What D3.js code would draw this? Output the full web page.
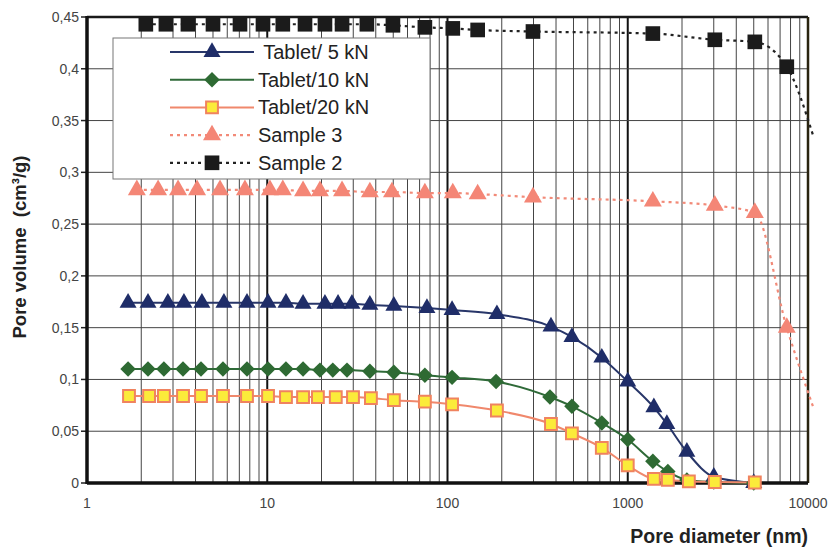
<!DOCTYPE html>
<html>
<head>
<meta charset="utf-8">
<script src="https://cdn.jsdelivr.net/npm/d3@7"></script>
<style>
  body { margin: 0; background: #fff; }
  text { font-family: "Liberation Sans", Arial, sans-serif; }
</style>
</head>
<body>
<div id="chart"></div>
<script>
// pore diameters (nm) and cumulative pore volumes (cm3/g)
const tab5D = [1.69, 2.18, 2.81, 3.45, 4.34, 5.75, 7.72, 10.1, 12.7, 15.8, 20.9, 24.7, 29.5, 37.1, 50.4, 76.9, 106, 188, 375, 490, 718, 1000, 1396, 1648, 2128, 3003, 5000];
const tab5V = [0.174, 0.174, 0.174, 0.174, 0.174, 0.174, 0.174, 0.174, 0.174, 0.173, 0.173, 0.173, 0.173, 0.172, 0.171, 0.169, 0.167, 0.163, 0.151, 0.141, 0.121, 0.098, 0.073, 0.057, 0.030, 0.006, 0.0];

const tab10D = [1.69, 2.18, 2.67, 3.41, 4.29, 5.68, 7.72, 10.1, 12.7, 15.8, 19.6, 23.1, 27.7, 37.1, 50.4, 74.9, 106, 186, 370, 490, 718, 1000, 1378, 1669, 2128, 3003, 5000];
const tab10V = [0.110, 0.110, 0.110, 0.110, 0.110, 0.110, 0.110, 0.110, 0.110, 0.110, 0.109, 0.109, 0.109, 0.108, 0.107, 0.104, 0.102, 0.098, 0.083, 0.074, 0.058, 0.042, 0.021, 0.011, 0.003, 0.001, 0.0];

const tab20D = [1.71, 2.21, 2.67, 3.41, 4.29, 5.68, 7.72, 10.1, 12.7, 15.8, 19.1, 24.0, 29.9, 37.6, 50.4, 74.9, 106, 188, 375, 490, 718, 1000, 1396, 1669, 2183, 3041, 5070];
const tab20V = [0.084, 0.084, 0.084, 0.084, 0.084, 0.084, 0.084, 0.084, 0.083, 0.083, 0.083, 0.083, 0.083, 0.082, 0.080, 0.0785, 0.076, 0.070, 0.057, 0.048, 0.034, 0.017, 0.004, 0.003, 0.0015, 0.001, 0.0005];

const s3D = [1.89, 2.48, 3.20, 4.08, 5.47, 7.52, 10.35, 12.2, 15.8, 19.6, 26.0, 37.1, 49.2, 74.9, 107, 147, 298, 1378, 3041, 5070, 7627, 10700];
const s3V = [0.283, 0.283, 0.283, 0.283, 0.283, 0.283, 0.283, 0.283, 0.282, 0.282, 0.282, 0.281, 0.281, 0.280, 0.280, 0.279, 0.276, 0.272, 0.268, 0.261, 0.150, 0.073];

const s2D = [2.12, 2.74, 3.63, 5.0, 7.06, 9.47, 12.2, 16.2, 20.9, 26.0, 35.7, 49.8, 74.9, 107, 147, 298, 1378, 3041, 5070, 7627, 10700];
const s2V = [0.443, 0.443, 0.443, 0.443, 0.443, 0.443, 0.443, 0.443, 0.443, 0.443, 0.443, 0.442, 0.440, 0.439, 0.4375, 0.436, 0.434, 0.428, 0.426, 0.402, 0.335];

const seriesNames = [" Tablet/ 5 kN", "Tablet/10 kN", "Tablet/20 kN", "Sample 3", "Sample 2"];
const yTicks = [0, 0.05, 0.1, 0.15, 0.2, 0.25, 0.3, 0.35, 0.4, 0.45];
const xTicks = [1, 10, 100, 1000, 10000];

const series = [
    {name: seriesNames[0], d: tab5D, v: tab5V, line: "#283669", dash: null, shape: "tri", fill: "#1f2d68", stroke: "none", size: 125},
    {name: seriesNames[1], d: tab10D, v: tab10V, line: "#2f6a38", dash: null, shape: "dia", fill: "#2e6a33", stroke: "none", size: 120},
    {name: seriesNames[2], d: tab20D, v: tab20V, line: "#f0886c", dash: null, shape: "sq", fill: "#fbeb3a", stroke: "#f0835f", size: 140},
    {name: seriesNames[3], d: s3D, v: s3V, line: "#f28a78", dash: "3,4", shape: "tri", fill: "#f48676", stroke: "none", size: 140},
    {name: seriesNames[4], d: s2D, v: s2V, line: "#222", dash: "3,4", shape: "sq", fill: "#1b1b1b", stroke: "none", size: 215}
];

const W = 828, H = 547;
const L = 87, R = 808, T = 17, B = 483;

const svg = d3.select("#chart")
    .append("svg")
    .attr("width", W)
    .attr("height", H);

const x = d3.scaleLog().domain([1, 10000]).range([L, R]);
const y = d3.scaleLinear().domain([0, 0.45]).range([B, T]);

// grid
const grid = svg.append("g");
const isMajor = v => Math.abs(Math.log10(v) - Math.round(Math.log10(v))) < 1e-9;

grid.selectAll(".vg")
    .data(x.ticks().filter(v => v > 1 && v < 10000))
    .enter()
    .append("line")
    .attr("x1", d => x(d)).attr("x2", d => x(d))
    .attr("y1", T).attr("y2", B)
    .attr("stroke", d => isMajor(d) ? "#111" : "#444")
    .attr("stroke-width", d => isMajor(d) ? 2 : 1);

grid.selectAll(".hg")
    .data(yTicks.filter(v => v > 0 && v < 0.45))
    .enter()
    .append("line")
    .attr("x1", L).attr("x2", R)
    .attr("y1", d => y(d)).attr("y2", d => y(d))
    .attr("stroke", "#444")
    .attr("stroke-width", 1);

// frame
svg.append("line").attr("x1", L).attr("x2", R).attr("y1", T).attr("y2", T)
    .attr("stroke", "#1a1a1a").attr("stroke-width", 2.5);
svg.append("line").attr("x1", R).attr("x2", R).attr("y1", T).attr("y2", B)
    .attr("stroke", "#2a2410").attr("stroke-width", 2.5);

// y tick marks and labels
svg.selectAll(".yt")
    .data(yTicks)
    .enter()
    .append("line")
    .attr("x1", L - 6).attr("x2", L)
    .attr("y1", d => y(d)).attr("y2", d => y(d))
    .attr("stroke", "#222").attr("stroke-width", 1.5);

svg.selectAll(".yl")
    .data(yTicks)
    .enter()
    .append("text")
    .attr("x", L - 8)
    .attr("y", d => y(d) + 5)
    .attr("text-anchor", "end")
    .attr("font-size", 14)
    .attr("fill", "#444")
    .text(d => String(d).replace(".", ","));

svg.selectAll(".xl")
    .data(xTicks)
    .enter()
    .append("text")
    .attr("x", d => x(d))
    .attr("y", 508)
    .attr("text-anchor", "middle")
    .attr("font-size", 14)
    .attr("fill", "#444")
    .text(d => d);

// axis lines
svg.append("line").attr("x1", L).attr("x2", L).attr("y1", T - 1).attr("y2", B + 1)
    .attr("stroke", "#111").attr("stroke-width", 3.5);
svg.append("line").attr("x1", L).attr("x2", R).attr("y1", B).attr("y2", B)
    .attr("stroke", "#111").attr("stroke-width", 3.5);

// titles
svg.append("text")
    .attr("transform", "translate(26,247) rotate(-90)")
    .attr("text-anchor", "middle")
    .attr("font-size", 18.5)
    .attr("font-weight", "bold")
    .attr("fill", "#222")
    .style("white-space", "pre")
    .text("Pore volume  (cm\u00B3/g)");

svg.append("text")
    .attr("x", R)
    .attr("y", 543)
    .attr("text-anchor", "end")
    .attr("font-size", 19.5)
    .attr("font-weight", "bold")
    .attr("fill", "#222")
    .text("Pore diameter (nm)");

// marker helper
const symbolFor = function(s) {
    if (s.shape === "tri") return d3.symbol().type(d3.symbolTriangle).size(s.size)();
    return d3.symbol().type(d3.symbolSquare).size(s.size)();
};
const rot = s => s.shape === "dia" ? " rotate(45)" : "";

const lineGen = d3.line()
    .x(p => x(p[0]))
    .y(p => y(p[1]))
    .curve(d3.curveMonotoneX);

const plot = svg.append("g");

series.forEach(function(s) {
    const pts = s.d.map((d, i) => [d, s.v[i]]);
    plot.append("path")
        .attr("d", lineGen(pts))
        .attr("fill", "none")
        .attr("stroke", s.line)
        .attr("stroke-width", s.dash ? 2.2 : 2)
        .attr("stroke-dasharray", s.dash);
});

series.forEach(function(s) {
    const pts = s.d.map((d, i) => [d, s.v[i]]).filter(p => p[0] <= 10000);
    plot.selectAll(null)
        .data(pts)
        .enter()
        .append("path")
        .attr("d", symbolFor(s))
        .attr("transform", p => "translate(" + x(p[0]) + "," + y(p[1]) + ")" + rot(s))
        .attr("fill", s.fill)
        .attr("stroke", s.stroke)
        .attr("stroke-width", s.stroke === "none" ? 0 : 2);
});

// legend
const leg = svg.append("g");
leg.append("rect")
    .attr("x", 113).attr("y", 38)
    .attr("width", 317).attr("height", 141)
    .attr("fill", "#fff")
    .attr("stroke", "#777")
    .attr("stroke-width", 1);

const rows = leg.selectAll(".row")
    .data(series)
    .enter()
    .append("g")
    .attr("transform", (d, i) => "translate(0," + (52 + i * 27.7) + ")");

rows.append("line")
    .attr("x1", 170).attr("x2", 254)
    .attr("y1", 0).attr("y2", 0)
    .attr("stroke", d => d.line)
    .attr("stroke-width", d => d.dash ? 2.2 : 2)
    .attr("stroke-dasharray", d => d.dash);

rows.append("path")
    .attr("d", d => symbolFor(d))
    .attr("transform", d => "translate(212,0)" + rot(d))
    .attr("fill", d => d.fill)
    .attr("stroke", d => d.stroke)
    .attr("stroke-width", d => d.stroke === "none" ? 0 : 2);

rows.append("text")
    .attr("x", 258)
    .attr("y", 7)
    .attr("font-size", 20)
    .attr("fill", "#222")
    .style("white-space", "pre")
    .text(d => d.name);
</script>
</body>
</html>
